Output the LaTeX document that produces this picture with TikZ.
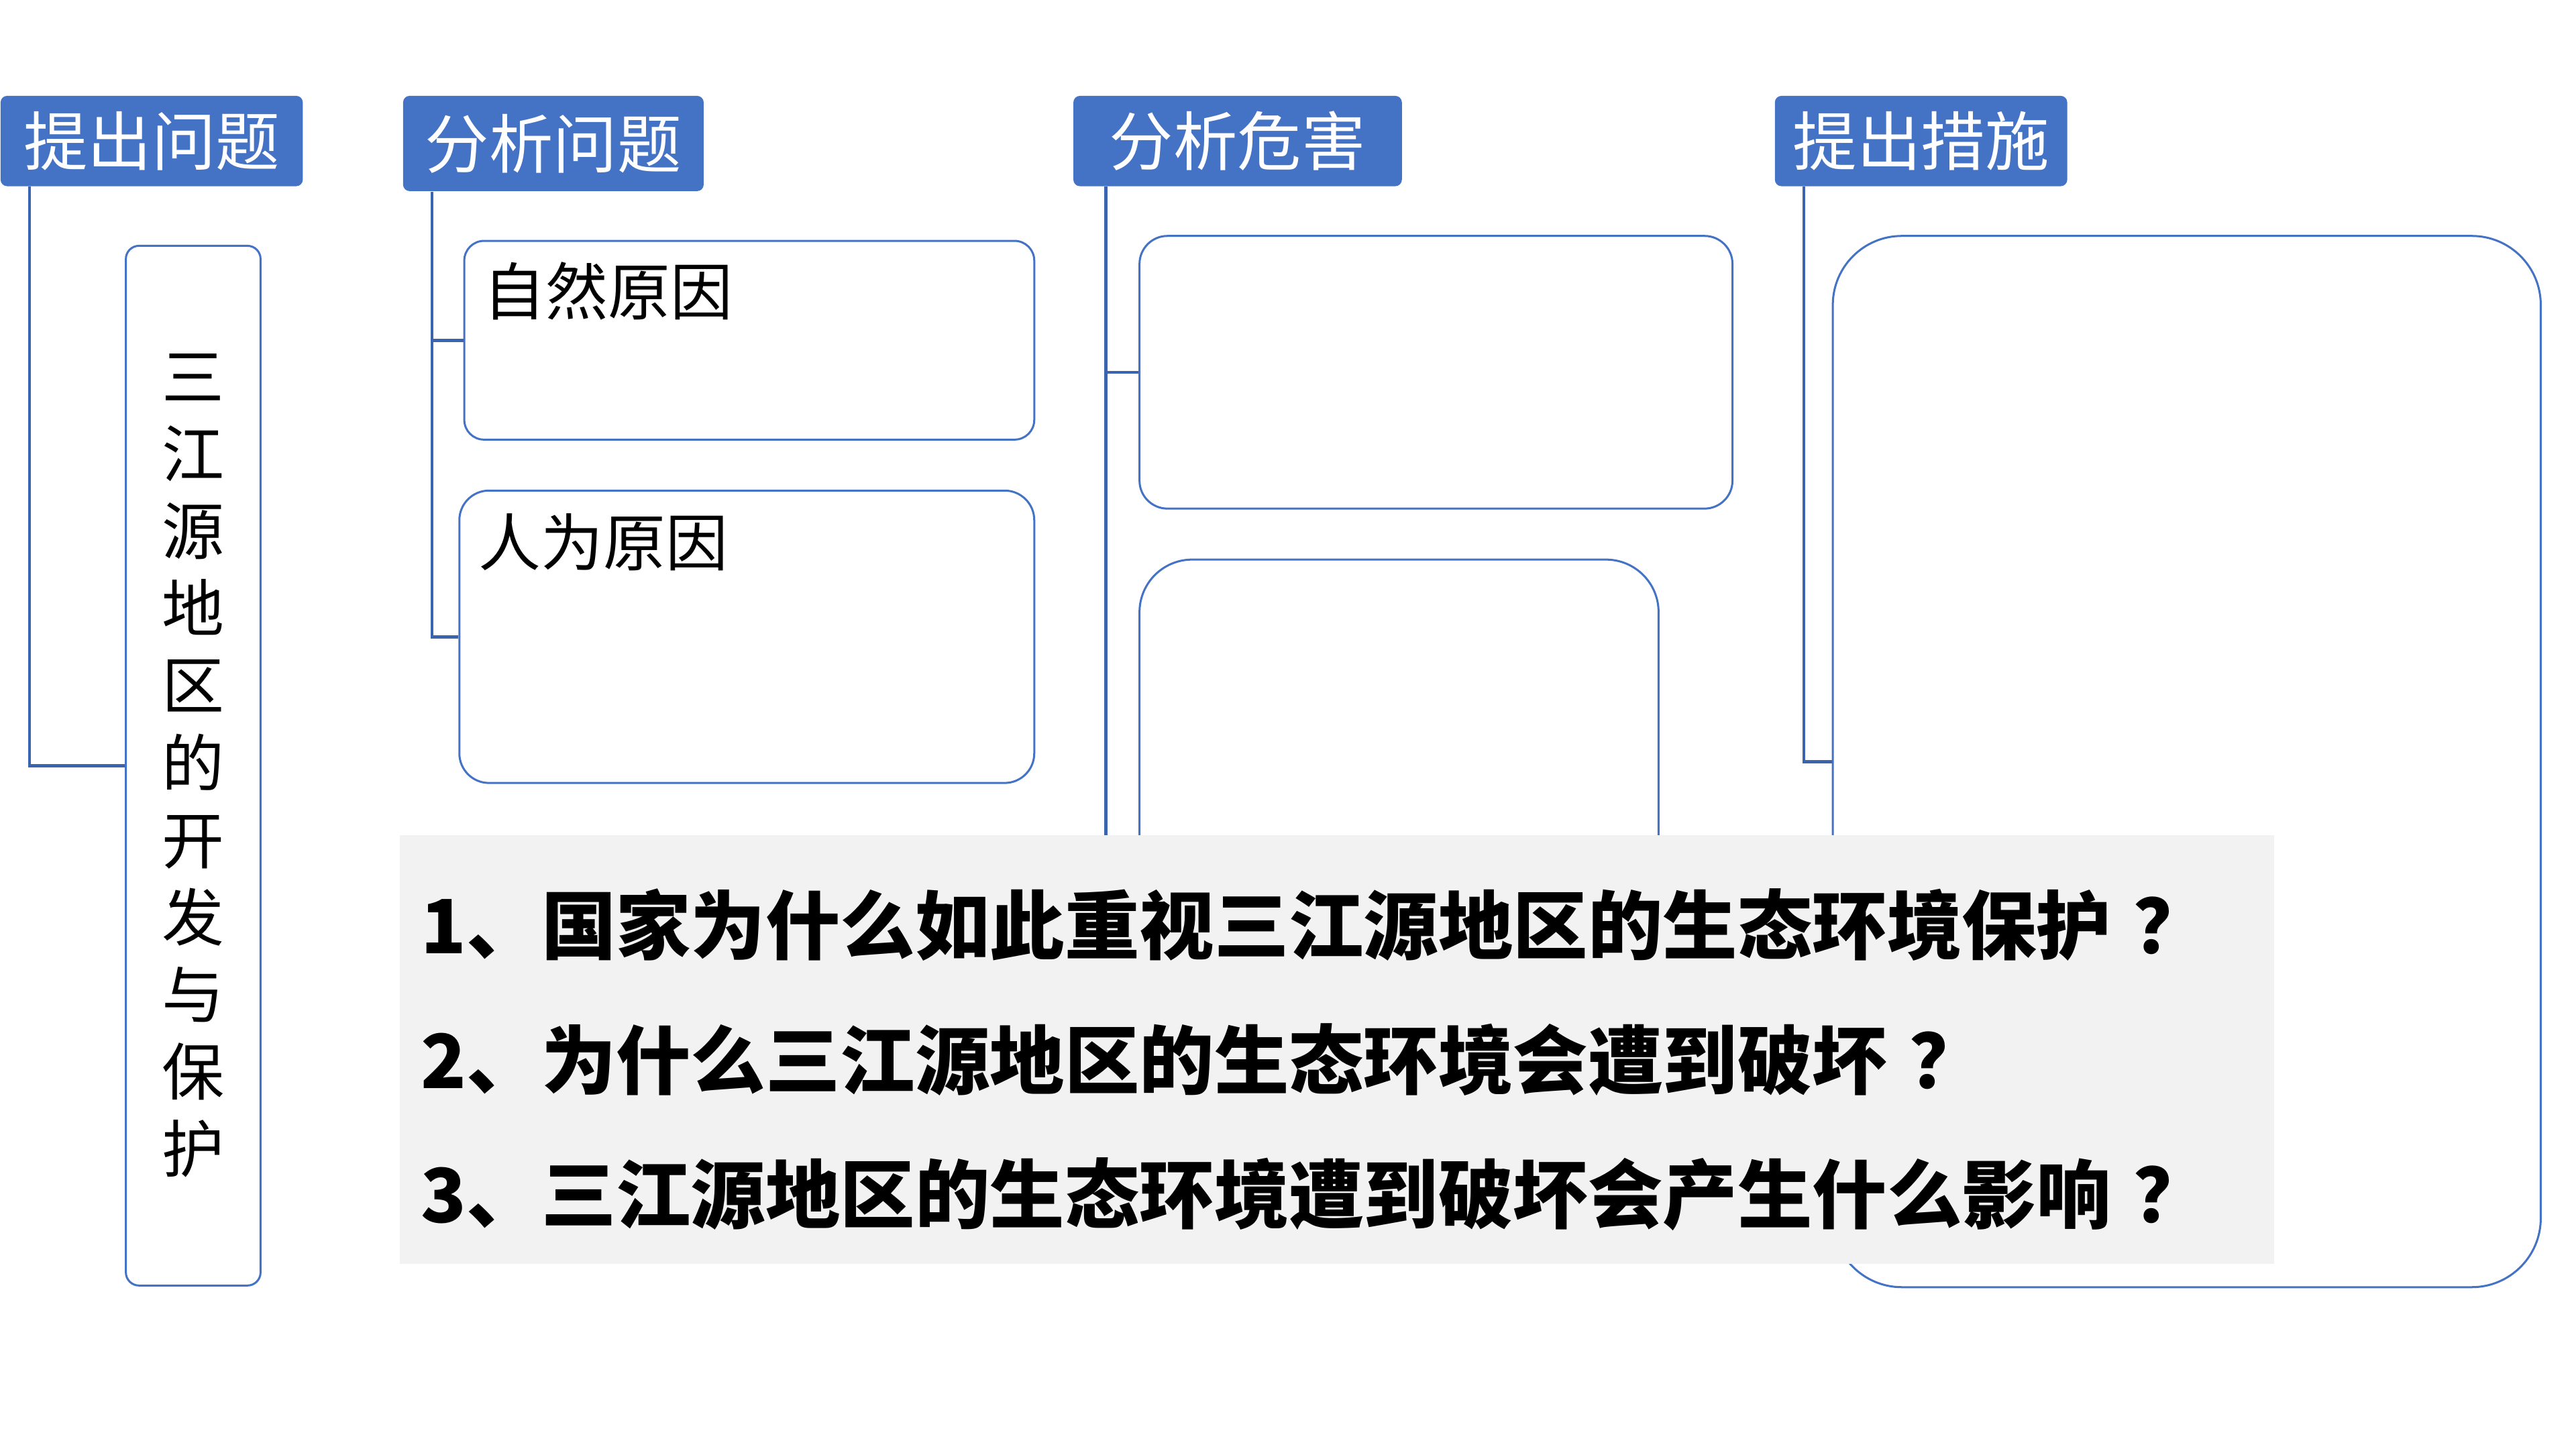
\documentclass[tikz,border=0pt]{standalone}
\usepackage{fontspec}
\newfontfamily\cjk{Noto Sans CJK SC}
\definecolor{hdrblue}{HTML}{4472C4}
\definecolor{boxblue}{HTML}{4472C4}
\definecolor{connblue}{HTML}{3B63AE}
\definecolor{panelgray}{HTML}{F2F2F2}
\newcommand{\qmk}{\kern0.3em ？}
\begin{document}
\begin{tikzpicture}[x=0.02cm,y=-0.02cm,
  hdr/.style={fill=hdrblue, rounded corners=0.08cm, inner sep=0, anchor=north west,
    text=white, font=\cjk\fontsize{22.2pt}{26pt}\selectfont},
  frame/.style={draw=boxblue, line width=0.7pt, fill=white, inner sep=0, anchor=north west},
  conn/.style={draw=connblue, line width=1.1pt},
  boxtext/.style={inner sep=0, anchor=west, font=\cjk\fontsize{21.6pt}{26pt}\selectfont},
  qtext/.style={inner sep=0, anchor=west, font=\cjk\bfseries\fontsize{25.9pt}{30pt}\selectfont}]
\useasboundingbox (0,0) rectangle (1568,882);
\fill[white] (0,0) rectangle (1568,882);

% header boxes
\node[hdr, minimum width=3.68cm, minimum height=1.10cm] (h1) at (0,58) {提出问题};
\node[hdr, minimum width=3.66cm, minimum height=1.16cm] (h2) at (245,58) {分析问题};
\node[hdr, minimum width=4.00cm, minimum height=1.10cm] (h3) at (653,58) {分析危害};
\node[hdr, minimum width=3.56cm, minimum height=1.10cm] (h4) at (1080,58) {提出措施};

% content boxes
\node[frame, rounded corners=0.16cm, minimum width=1.64cm, minimum height=12.66cm] (b0) at (76,149) {};
\node[frame, rounded corners=0.24cm, minimum width=6.94cm, minimum height=2.42cm] (r1) at (282,146) {};
\node[frame, rounded corners=0.36cm, minimum width=7.00cm, minimum height=3.56cm] (r2) at (279,298) {};
\node[frame, rounded corners=0.34cm, minimum width=7.22cm, minimum height=3.32cm] (d1) at (693,143) {};
\node[frame, rounded corners=0.64cm, minimum width=6.32cm, minimum height=7.00cm] (d2) at (693,340) {};
\node[frame, rounded corners=0.84cm, minimum width=8.62cm, minimum height=12.80cm] (m1) at (1115,143) {};

% connectors
\draw[conn] ([xshift=0.36cm]h1.south west) |- (b0.west);
\draw[conn] ([xshift=0.36cm]h2.south west) |- (r1.west);
\draw[conn] ([xshift=0.36cm]h2.south west) |- (r2.west);
\draw[conn] ([xshift=0.40cm]h3.south west) |- (d1.west);
\draw[conn] ([xshift=0.40cm]h3.south west) |- (d2.west);
\draw[conn] ([xshift=0.36cm]h4.south west) |- (m1.west);

% texts in boxes
\node[inner sep=0, align=center, font=\cjk\fontsize{21.6pt}{26.75pt}\selectfont] (vt) at (b0.center)
  {三\\江\\源\\地\\区\\的\\开\\发\\与\\保\\护};
\node[boxtext] (t1) at (294,177) {自然原因};
\node[boxtext] (t2) at (291,330) {人为原因};

% question panel
\node[fill=panelgray, inner sep=0, anchor=north west, minimum width=22.82cm, minimum height=5.22cm] (qp) at (243,508) {};
\node[qtext] (q1) at (256,563) {1、国家为什么如此重视三江源地区的生态环境保护\qmk};
\node[qtext] (q2) at (256,645) {2、为什么三江源地区的生态环境会遭到破坏\qmk};
\node[qtext] (q3) at (256,727) {3、三江源地区的生态环境遭到破坏会产生什么影响\qmk};
\end{tikzpicture}
\end{document}
